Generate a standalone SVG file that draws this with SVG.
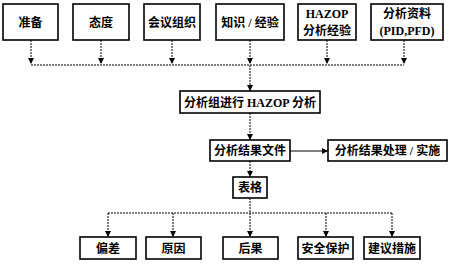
<svg xmlns="http://www.w3.org/2000/svg" width="450" height="264" viewBox="0 0 450 264">
<style>
.box{fill:#fff;stroke:#000;stroke-width:1.6}
.t{font-family:"Liberation Serif","Noto Sans CJK SC",serif;font-size:12px;font-weight:bold;fill:#000;text-anchor:middle}
.d{fill:none;stroke:#000;stroke-width:1;stroke-dasharray:2,1}
.s{fill:none;stroke:#000;stroke-width:1}
</style>
<defs>
<marker id="ah" viewBox="0 0 8 8" refX="8" refY="4" markerWidth="6" markerHeight="6" markerUnits="userSpaceOnUse" orient="auto">
<path d="M0,0 L8,4 L0,8 Z" fill="#000"/>
</marker>
</defs>
<rect width="450" height="264" fill="#fff"/>
<g id="connectors">
<line class="d" x1="31" y1="40" x2="31" y2="64" marker-end="url(#ah)"/>
<line class="d" x1="101" y1="40" x2="101" y2="64" marker-end="url(#ah)"/>
<line class="d" x1="172" y1="40" x2="172" y2="64" marker-end="url(#ah)"/>
<line class="d" x1="250" y1="40" x2="250" y2="64" marker-end="url(#ah)"/>
<line class="d" x1="327" y1="40" x2="327" y2="64" marker-end="url(#ah)"/>
<line class="d" x1="404" y1="40" x2="404" y2="64" marker-end="url(#ah)"/>
<line class="d" x1="31" y1="65" x2="404" y2="65"/>
<line class="d" x1="250" y1="65" x2="250" y2="91" marker-end="url(#ah)"/>
<line class="d" x1="250" y1="113" x2="250" y2="140" marker-end="url(#ah)"/>
<line class="s" x1="290" y1="151" x2="328" y2="151" marker-end="url(#ah)"/>
<line class="d" x1="250" y1="161" x2="250" y2="177" marker-end="url(#ah)"/>
<line class="d" x1="250" y1="198" x2="250" y2="213"/>
<line class="d" x1="108" y1="213" x2="392" y2="213"/>
<line class="d" x1="108" y1="213" x2="108" y2="237" marker-end="url(#ah)"/>
<line class="d" x1="173" y1="213" x2="173" y2="237" marker-end="url(#ah)"/>
<line class="d" x1="250" y1="213" x2="250" y2="237" marker-end="url(#ah)"/>
<line class="d" x1="326" y1="213" x2="326" y2="237" marker-end="url(#ah)"/>
<line class="d" x1="392" y1="213" x2="392" y2="237" marker-end="url(#ah)"/>
</g>
<g id="n1"><rect class="box" x="3" y="4" width="55" height="36"/><text class="t" x="30.5" y="26.5">准备</text></g>
<g id="n2"><rect class="box" x="73" y="4" width="56" height="36"/><text class="t" x="101" y="26.5">态度</text></g>
<g id="n3"><rect class="box" x="144" y="4" width="56" height="36"/><text class="t" x="172" y="26.5">会议组织</text></g>
<g id="n4"><rect class="box" x="216" y="4" width="68" height="36"/><text class="t" x="250" y="26.5">知识 / 经验</text></g>
<g id="n5"><rect class="box" x="298" y="4" width="58" height="36"/><text class="t" x="327" y="18">HAZOP</text><text class="t" x="327" y="35">分析经验</text></g>
<g id="n6"><rect class="box" x="371" y="4" width="72" height="36"/><text class="t" x="407" y="18">分析资料</text><text class="t" x="407" y="35">(PID,PFD)</text></g>
<g id="n7"><rect class="box" x="180" y="91" width="140" height="22"/><text class="t" x="250" y="106.5">分析组进行 HAZOP 分析</text></g>
<g id="n8"><rect class="box" x="210" y="140" width="80" height="21"/><text class="t" x="250" y="155">分析结果文件</text></g>
<g id="n9"><rect class="box" x="328" y="140" width="119" height="21"/><text class="t" x="387.5" y="155">分析结果处理 / 实施</text></g>
<g id="n10"><rect class="box" x="233" y="177" width="34" height="21"/><text class="t" x="250" y="192">表格</text></g>
<g id="n11"><rect class="box" x="80" y="237" width="56" height="22"/><text class="t" x="108" y="252.5">偏差</text></g>
<g id="n12"><rect class="box" x="146" y="237" width="55" height="22"/><text class="t" x="173.5" y="252.5">原因</text></g>
<g id="n13"><rect class="box" x="223" y="237" width="55" height="22"/><text class="t" x="250.5" y="252.5">后果</text></g>
<g id="n14"><rect class="box" x="298" y="237" width="55" height="22"/><text class="t" x="325.5" y="252.5">安全保护</text></g>
<g id="n15"><rect class="box" x="364" y="237" width="56" height="22"/><text class="t" x="392" y="252.5">建议措施</text></g>
</svg>
